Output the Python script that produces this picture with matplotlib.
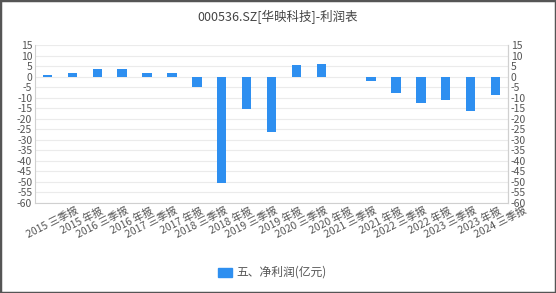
import numpy as np
import matplotlib.pyplot as plt
import matplotlib.transforms as mtransforms
from matplotlib.patches import Rectangle

plt.rcParams['font.family'] = ['Noto Sans CJK SC', 'DejaVu Sans']

periods = ["2015 三季报", "2015 年报", "2016 三季报", "2016 年报", "2017 三季报",
           "2017 年报", "2018 三季报", "2018 年报", "2019 三季报", "2019 年报",
           "2020 三季报", "2020 年报", "2021 三季报", "2021 年报", "2022 三季报",
           "2022 年报", "2023 三季报", "2023 年报", "2024 三季报"]
net_profit = [0.8, 1.9, 3.6, 3.5, 1.6, 1.7, -4.8, -50.5, -15.2, -26.2,
              5.5, 5.8, 0.0, -2.2, -7.9, -12.4, -11.1, -16.4, -8.7]
yticks = list(range(-60, 16, 5))

bar_color = '#2e8ff0'
txt = '#555555'

fig = plt.figure(figsize=(5.56, 2.93), dpi=100)
ax = fig.add_axes([35/556, 1-203/293, (508-35)/556, (203-45)/293])
x = np.arange(len(periods))
ax.bar(x, net_profit, width=0.38, color=bar_color, zorder=3)
ax.set_xlim(-0.5, len(periods)-0.5)
ax.set_ylim(-60, 15)
ax.set_yticks(yticks)
ax.set_yticklabels([str(v) for v in yticks], fontsize=7.5, color=txt)
ax.yaxis.grid(True, color='#ebebeb', lw=0.8, zorder=0)
ax.set_xticks(x)
ax.set_xticklabels(periods, rotation=27, ha='right', va='center', rotation_mode='anchor',
                   fontsize=7.5, color=txt)
ax.tick_params(axis='y', length=0, pad=2)
ax.tick_params(axis='x', length=0, pad=0)
shift = mtransforms.ScaledTranslation(0.30, -0.07, fig.dpi_scale_trans)
for lab in ax.get_xticklabels():
    lab.set_transform(lab.get_transform() + shift)
ax.spines['top'].set_visible(False)
for s in ['left', 'right', 'bottom']:
    ax.spines[s].set_color('#d0d0d0')

ax2 = ax.twinx()
ax2.set_ylim(-60, 15)
ax2.set_yticks(yticks)
ax2.set_yticklabels([str(v) for v in yticks], fontsize=7.5, color=txt)
ax2.tick_params(length=0, pad=2)
for s in ['top', 'left', 'bottom']:
    ax2.spines[s].set_visible(False)
ax2.spines['right'].set_color('#d0d0d0')

fig.text(0.5, 1-17/293, "000536.SZ[华映科技]-利润表", ha='center', va='center',
         fontsize=9, color='#444444')

# legend
fig.patches.append(Rectangle((218/556, 1-277/293), 14/556, 9/293, transform=fig.transFigure,
                             color=bar_color, figure=fig))
fig.text(236/556, 1-272/293, "五、净利润(亿元)", ha='left', va='center', fontsize=8.5, color=txt)

# frame
fig.patches.append(Rectangle((0, 0), 1, 1, transform=fig.transFigure, fill=False,
                             edgecolor='#555555', lw=2.5, figure=fig))

fig.savefig('out.png', dpi=100)
